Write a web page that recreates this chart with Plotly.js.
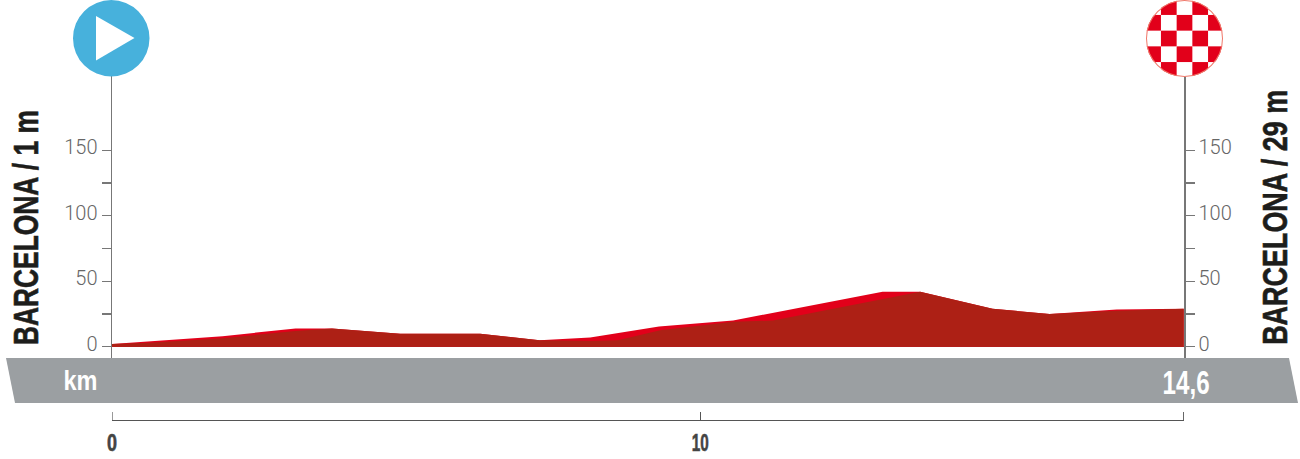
<!DOCTYPE html>
<html><head><meta charset="utf-8">
<script src="https://cdn.plot.ly/plotly-3.0.1.min.js"></script>
<style>html,body{margin:0;padding:0;background:#fff}#c{width:1300px;height:459px}</style>
</head><body><div id="c"></div>
<script>
// x positions follow the drawn axis (0 and 10 labels), the end of the axis is labelled 14,6
const kmUpper = [0,0.63,1.88,3.12,3.74,4.9,6.26,7.27,8.13,9.3,10.56,13.1,13.74,14.97,15.94,17.08,18.22];
const elevUpper = [2,4,8,14,14,10,10,5,7,15.5,20,42,42,29,25,28.5,29];
const kmLower = [0,0.63,1.88,3.12,3.74,4.9,6.26,7.27,8.13,8.6,9.32,10.56,11.24,11.7,13.74,14.97,15.94,17.08,18.22];
const elevLower = [2,3,6.5,12,14,10,10,5,4.3,5,12.5,19,20,24,42,29,25,27.5,29];
const yTicks = [0,25,50,75,100,125,150];
const yLabels = ['0','','50','','100','','150'];
const xTicks = [0,10,18.22];
const xLabels = ['0','10',''];
const startName = 'BARCELONA / 1 m';
const endName = 'BARCELONA / 29 m';

const W=1300,H=459,L=112,R=1184,T=76,B=420,AB=358;
const px=x=>(x-L)/(R-L), py=y=>1-(y-T)/(B-T);
const sans='"Liberation Sans",sans-serif';

function poly(pts){return 'M'+pts.map(p=>px(p[0])+','+py(p[1])).join(' L')+' Z';}
function ann(text,x,y,size,color,extra){return Object.assign({text:text,xref:'paper',yref:'paper',x:px(x),y:py(y),showarrow:false,
  font:{family:sans,size:size,color:color,weight:'bold'},xanchor:'center',yanchor:'middle',borderpad:0,borderwidth:0},extra||{});}

// start and finish markers
const cs=15.5;let cells='';
for(let r=0;r<5;r++)for(let c=0;c<5;c++)if((r+c)%2)cells+=`<rect x="${38-2.5*cs+c*cs}" y="${38-2.5*cs+r*cs}" width="${cs}" height="${cs}" fill="#e2001a"/>`;
const flag=`<svg xmlns="http://www.w3.org/2000/svg" width="78" height="78" viewBox="0 0 76 76"><defs><clipPath id="k"><circle cx="38" cy="38" r="38"/></clipPath></defs><circle cx="38" cy="38" r="38" fill="#fff"/><g clip-path="url(#k)">${cells}</g><circle cx="38" cy="38" r="37.5" fill="none" stroke="#f0796b" stroke-width="1"/></svg>`;

const traces=[
 {x:kmUpper,y:elevUpper,type:'scatter',mode:'lines',line:{width:0,color:'#e2001a'},fill:'tozeroy',fillcolor:'#e2001a',hoverinfo:'skip',xaxis:'x',yaxis:'y'},
 {x:kmLower,y:elevLower,type:'scatter',mode:'lines',line:{width:0,color:'#ad2015'},fill:'tozeroy',fillcolor:'#ad2015',hoverinfo:'skip',xaxis:'x',yaxis:'y2'}
];
const yCommon={range:[-8.6,206.6],domain:[py(AB),1],tickmode:'array',tickvals:yTicks,ticktext:yLabels,ticks:'outside',ticklen:9,tickwidth:1.2,tickcolor:'#777',
  showline:true,linecolor:'#777',linewidth:1.5,showgrid:false,zeroline:true,zerolinecolor:'#666',zerolinewidth:1.5,
  tickfont:{family:'Roboto,sans-serif',size:20,color:'#666',weight:300},ticklabelshift:-3,fixedrange:true};
const layout={width:W,height:H,margin:{l:L,r:W-R,t:T,b:H-B,pad:0},paper_bgcolor:'#fff',plot_bgcolor:'rgba(0,0,0,0)',showlegend:false,
 xaxis:{range:[0,18.225],tickmode:'array',tickvals:xTicks,ticktext:xLabels,ticks:'inside',ticklen:8,tickwidth:1.2,tickcolor:'#555',showline:true,linecolor:'#555',linewidth:1.2,
   showgrid:false,zeroline:false,anchor:'free',position:0,tickangle:0,ticklabelstandoff:1,tickfont:{family:sans,size:24,color:'#444',weight:'bold'},fixedrange:true},
 yaxis:Object.assign({side:'left',anchor:'x'},yCommon),
 yaxis2:Object.assign({side:'right',overlaying:'y',anchor:'x'},yCommon),
 shapes:[
  {type:'path',xref:'paper',yref:'paper',path:poly([[6,358],[1289,358],[1298,403],[15,403]]),fillcolor:'#9b9fa2',line:{width:0},layer:'below'},
  {type:'circle',xref:'paper',yref:'paper',x0:px(73),x1:px(149.5),y0:py(76.5),y1:py(0),fillcolor:'#47b1dc',line:{width:0}},
  {type:'path',xref:'paper',yref:'paper',path:poly([[96,16],[134.5,38],[96,60.5]]),fillcolor:'#fff',line:{width:0}},
  {type:'line',xref:'x',yref:'paper',x0:xTicks[0],x1:xTicks[0],y0:py(420),y1:py(412),line:{color:'#555',width:1.2}},
  {type:'line',xref:'x',yref:'paper',x0:xTicks[2],x1:xTicks[2],y0:py(420),y1:py(412),line:{color:'#555',width:1.2}}
 ],
 images:[{source:'data:image/svg+xml;charset=utf-8,'+encodeURIComponent(flag),xref:'paper',yref:'paper',x:px(1146),y:py(0),sizex:px(1223)-px(1146),sizey:py(0)-py(77),xanchor:'left',yanchor:'top',sizing:'stretch',layer:'above'}],
 annotations:[
  ann(startName,25,227.5,35,'#1d1d1b',{textangle:-90}),
  ann(endName,1274.5,217.5,35,'#1d1d1b',{textangle:-90}),
  ann('km',80,381,27,'#fff'),
  ann('14,6',1185.5,382,33,'#fff')
 ]};
// The reference lettering is condensed: fit each label to its drawn length
const fit={[startName]:235,[endName]:255,'km':34,'14,6':47,'0':10,'10':17};
const heavy=[startName,endName,'0','10'];
Plotly.newPlot('c',traces,layout,{displayModeBar:false,staticPlot:true}).then(gd=>{
  gd.querySelectorAll('.annotation-text, .xtick text').forEach(t=>{
    const s=t.textContent, w=fit[s];
    if(w){t.setAttribute('textLength',w);t.setAttribute('lengthAdjust','spacingAndGlyphs');}
    if(heavy.includes(s)){t.style.stroke=t.style.fill;t.style.strokeWidth='0.6px';}
  });
});
</script></body></html>
